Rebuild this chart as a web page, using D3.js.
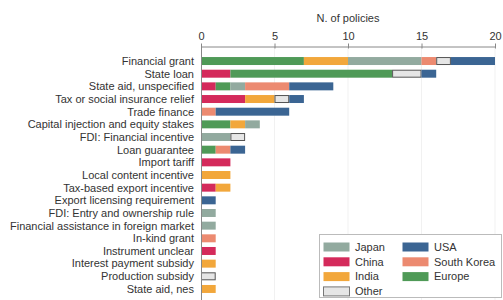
<!DOCTYPE html>
<html>
<head>
<meta charset="utf-8">
<script src="https://cdn.jsdelivr.net/npm/d3@7"></script>
<style>
body { margin: 0; background: #fff; }
text { font-family: "Liberation Sans", Arial, sans-serif; }
</style>
</head>
<body>
<div></div>
<script>
var width = 503;
var height = 300;

var categories = ["Financial grant", "State loan", "State aid, unspecified", "Tax or social insurance relief",
	"Trade finance", "Capital injection and equity stakes", "FDI: Financial incentive", "Loan guarantee",
	"Import tariff", "Local content incentive", "Tax-based export incentive", "Export licensing requirement",
	"FDI: Entry and ownership rule", "Financial assistance in foreign market", "In-kind grant",
	"Instrument unclear", "Interest payment subsidy", "Production subsidy", "State aid, nes"];

// stacking order, left to right
var series = ["China", "Europe", "India", "Japan", "South Korea", "Other", "USA"];

var china      = [0, 2, 1, 3, 0, 0, 0, 0, 2, 0, 1, 0, 0, 0, 0, 1, 0, 0, 0];
var europe     = [7, 11, 1, 0, 0, 2, 0, 1, 0, 0, 0, 0, 0, 0, 0, 0, 0, 0, 0];
var india      = [3, 0, 0, 2, 0, 1, 0, 0, 0, 2, 1, 0, 0, 0, 0, 0, 1, 0, 1];
var japan      = [5, 0, 1, 0, 0, 1, 2, 0, 0, 0, 0, 0, 1, 1, 0, 0, 0, 0, 0];
var southKorea = [1, 0, 3, 0, 1, 0, 0, 1, 0, 0, 0, 0, 0, 0, 1, 0, 0, 0, 0];
var other      = [1, 2, 0, 1, 0, 0, 1, 0, 0, 0, 0, 0, 0, 0, 0, 0, 0, 1, 0];
var usa        = [3, 1, 3, 1, 5, 0, 0, 1, 0, 0, 0, 1, 0, 0, 0, 0, 0, 0, 0];

var xTicks = [0, 5, 10, 15, 20];

var colors = {
	"Japan": "#92aa9f",
	"China": "#d42a5b",
	"India": "#f2a73b",
	"Other": "#e6e6e6",
	"USA": "#3b6593",
	"South Korea": "#ec8a70",
	"Europe": "#4f9a57"
};

var legendCols = [["Japan", "China", "India", "Other"], ["USA", "South Korea", "Europe"]];

var values = {"China": china, "Europe": europe, "India": india, "Japan": japan,
	"South Korea": southKorea, "Other": other, "USA": usa};

var table = categories.map(function(c, i) {
	var row = {name: c};
	series.forEach(function(s) { row[s] = values[s][i]; });
	return row;
});

var stacked = d3.stack().keys(series)(table);

var svg = d3.select("div")
	.append("svg")
	.attr("width", width)
	.attr("height", height);

var x = d3.scaleLinear().domain([0, 20]).range([201, 495]);
var y = d3.scaleBand().domain(categories)
	.range([54.7, 295.3])
	.paddingInner(0.37)
	.paddingOuter(0.185);

// grid
svg.append("g")
	.selectAll("line")
	.data(xTicks.slice(1))
	.enter()
	.append("line")
	.attr("x1", d => x(d))
	.attr("x2", d => x(d))
	.attr("y1", 47)
	.attr("y2", height)
	.attr("stroke", "#f1f1f1")
	.attr("stroke-width", 1);

// bars ("Other" gets an outline, inset by half a pixel)
svg.append("g")
	.selectAll("g")
	.data(stacked)
	.enter()
	.append("g")
	.attr("fill", d => colors[d.key])
	.each(function(s) {
		var inset = s.key == "Other" ? 0.5 : 0;
		d3.select(this)
			.attr("stroke", inset ? "#555" : "none")
			.selectAll("rect")
			.data(s.filter(v => v[1] > v[0]))
			.enter()
			.append("rect")
			.attr("x", d => x(d[0]) + inset)
			.attr("y", d => y(d.data.name) + inset)
			.attr("width", d => x(d[1]) - x(d[0]) - 2 * inset)
			.attr("height", y.bandwidth() - 2 * inset);
	});

// top axis
var xAxis = svg.append("g")
	.attr("transform", "translate(0,46.5)")
	.call(d3.axisTop(x).tickValues(xTicks).tickSize(4).tickSizeOuter(0));
xAxis.select(".domain").attr("stroke", "#888");
xAxis.selectAll(".tick line").attr("stroke", "#888").attr("y2", 2).attr("y1", -3);
xAxis.selectAll(".tick text")
	.attr("font-size", 11)
	.attr("fill", "#333")
	.attr("y", -7);

svg.append("text")
	.attr("x", x(10))
	.attr("y", 22)
	.attr("text-anchor", "middle")
	.attr("font-size", 11)
	.attr("fill", "#333")
	.text("N. of policies");

// left axis line
svg.append("line")
	.attr("x1", 201.5)
	.attr("x2", 201.5)
	.attr("y1", 46)
	.attr("y2", height)
	.attr("stroke", "#888");

svg.append("g")
	.selectAll("text")
	.data(categories)
	.enter()
	.append("text")
	.attr("x", 194)
	.attr("y", d => y(d) + y.bandwidth() / 2)
	.attr("dy", "0.35em")
	.attr("text-anchor", "end")
	.attr("font-size", 11)
	.attr("fill", "#333")
	.text(d => d);

// legend
var legend = svg.append("g");
legend.append("rect")
	.attr("x", 319.5)
	.attr("y", 234.5)
	.attr("width", 182)
	.attr("height", 63)
	.attr("fill", "#fff")
	.attr("stroke", "#bbb");

legendCols.forEach(function(col, ci) {
	var g = legend.append("g").attr("transform", "translate(" + (323 + ci * 79) + ",0)");
	g.selectAll("rect")
		.data(col)
		.enter()
		.append("rect")
		.attr("x", 0.5)
		.attr("y", (d, i) => 242.5 + i * 14.8)
		.attr("width", 26)
		.attr("height", 9)
		.attr("fill", d => colors[d])
		.attr("stroke", d => d == "Other" ? "#777" : "none");
	g.selectAll("text")
		.data(col)
		.enter()
		.append("text")
		.attr("x", 32)
		.attr("y", (d, i) => 247 + i * 14.8)
		.attr("dy", "0.35em")
		.attr("font-size", 11)
		.attr("fill", "#333")
		.text(d => d);
});
</script>
</body>
</html>
